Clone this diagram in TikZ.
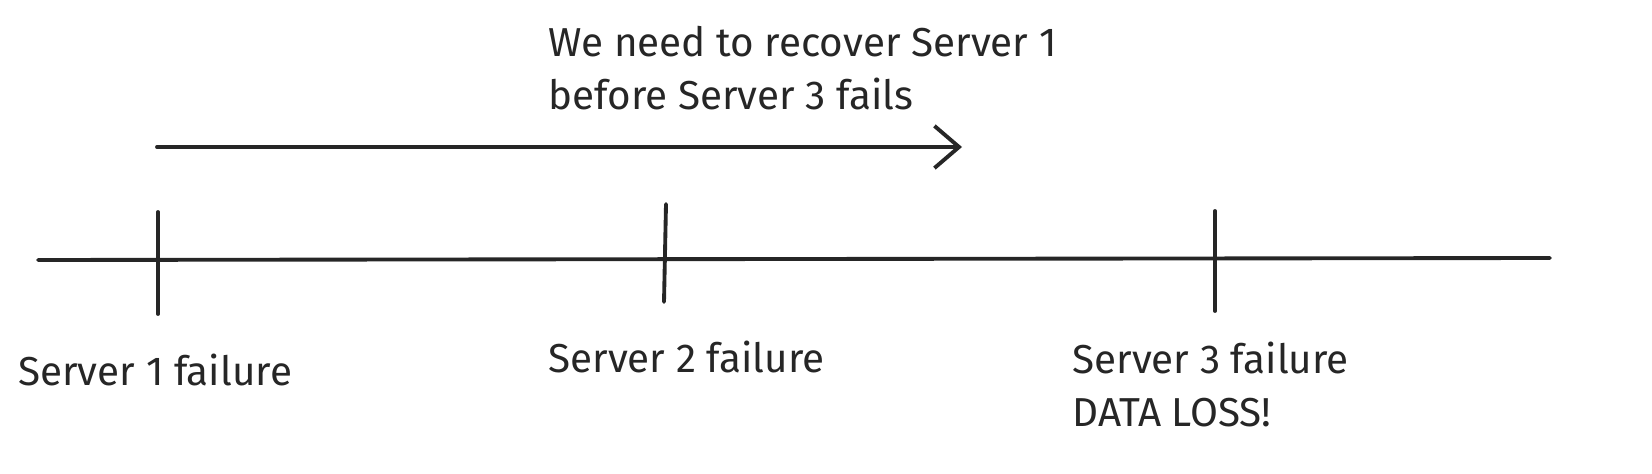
\documentclass[tikz,border=0pt]{standalone}
\usepackage{fontspec}
\setmainfont{Fira Sans}
\usetikzlibrary{arrows.meta}
\begin{document}
\begin{tikzpicture}[x=0.02cm,y=-0.02cm,
  ln/.style={line width=2.2pt,line cap=round,black!85},
  lb/.style={anchor=west,font=\fontsize{23}{30}\selectfont,text=black!85,inner sep=0pt,align=left}]
\useasboundingbox (0,0) rectangle (1652,473);
\coordinate (L) at (38,260); \coordinate (R) at (1550,258);
\draw[ln] (L) -- (R);
\coordinate (t1a) at (158,212); \coordinate (t1b) at (158,314);
\coordinate (t2a) at (666,204); \coordinate (t2b) at (664,302);
\coordinate (t3a) at (1215,211); \coordinate (t3b) at (1215,311);
\draw[ln] (t1a)--(t1b); \draw[ln] (t2a)--(t2b); \draw[ln] (t3a)--(t3b);
\coordinate (as) at (157,147); \coordinate (ae) at (962,147);
\draw[ln,-{Straight Barb[length=14pt,width=24pt,line width=2.2pt]}] (as)--(ae);
\node[lb,anchor=north west] (top) at (548,26) {We need to recover Server 1\\before Server 3 fails};
\node[lb] (s1) at (18,370) {Server 1 failure};
\node[lb] (s2) at (548,357) {Server 2 failure};
\node[lb,anchor=north west] (s3) at (1072,342) {Server 3 failure\\DATA LOSS!};
\end{tikzpicture}
\end{document}
